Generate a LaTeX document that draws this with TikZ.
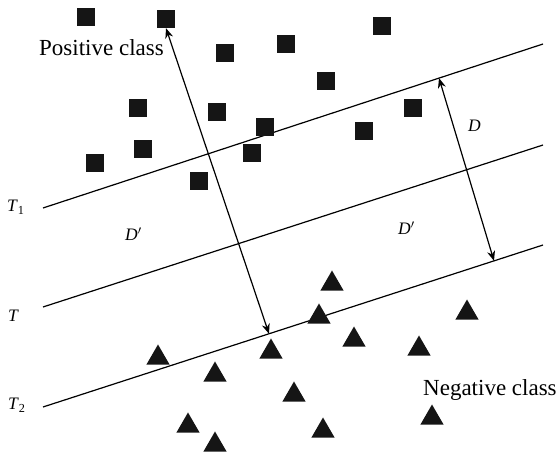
\documentclass[tikz,border=0pt]{standalone}
\usepackage{fontspec}
\setmainfont{Liberation Serif}
\usetikzlibrary{arrows.meta,shapes.geometric}
\definecolor{MarkBlack}{HTML}{151515}
\tikzset{
  posmark/.style={rectangle, fill=MarkBlack, minimum size=18pt, inner sep=0pt},
  negmark/.style={regular polygon, regular polygon sides=3, fill=MarkBlack,
                  minimum size=27pt, inner sep=0pt},
  border/.style={line width=1.2pt},
  gap/.style={{Stealth[length=10pt,width=8pt]}-{Stealth[length=10pt,width=8pt]}, line width=1.2pt},
  classlabel/.style={font=\rmfamily\fontsize{23}{25}\selectfont, inner sep=0pt, anchor=base west},
  linelabel/.style={font=\rmfamily\fontsize{17.5}{19}\selectfont, inner sep=0pt, anchor=base west},
}

\begin{document}
\begin{tikzpicture}[x=1pt,y=-1pt]
    \useasboundingbox (0,0) rectangle (558,454);
    % boundary lines
    \coordinate (t1a) at (43,208);
    \coordinate (t1b) at (543,44);
    \coordinate (ta) at (43,307);
    \coordinate (tb) at (543,145);
    \coordinate (t2a) at (43,407);
    \coordinate (t2b) at (543,245);
    \draw[border] (t1a) -- (t1b) coordinate[pos=0.792] (gapb);
    \draw[border] (ta) -- (tb);
    \draw[border] (t2a) -- (t2b) coordinate[pos=0.452] (gapa) coordinate[pos=0.902] (gapc);
    % positive class
    \node[posmark] (p1) at (86,17) {};
    \node[posmark] (p2) at (166,19) {};
    \node[posmark] (p3) at (225,53) {};
    \node[posmark] (p4) at (286,44) {};
    \node[posmark] (p5) at (382,26) {};
    \node[posmark] (p6) at (138,108) {};
    \node[posmark] (p7) at (217,112) {};
    \node[posmark] (p8) at (265,127) {};
    \node[posmark] (p9) at (326,81) {};
    \node[posmark] (p10) at (413,108) {};
    \node[posmark] (p11) at (364,131) {};
    \node[posmark] (p12) at (143,149) {};
    \node[posmark] (p13) at (95,163) {};
    \node[posmark] (p14) at (252,153) {};
    \node[posmark] (p15) at (199,181) {};
    % negative class
    \node[negmark] (n1) at (158,358) {};
    \node[negmark] (n2) at (215,375) {};
    \node[negmark] (n3) at (188,426) {};
    \node[negmark] (n4) at (215,445) {};
    \node[negmark] (n5) at (271,352) {};
    \node[negmark] (n6) at (332,284) {};
    \node[negmark] (n7) at (319,317) {};
    \node[negmark] (n8) at (354,340) {};
    \node[negmark] (n9) at (419,349) {};
    \node[negmark] (n10) at (467,313) {};
    \node[negmark] (n11) at (294,395) {};
    \node[negmark] (n12) at (323,431) {};
    \node[negmark] (n13) at (432,418) {};
    % margins
    \draw[gap] (p2.south) -- (gapa);
    \draw[gap] (gapb) -- (gapc);
    % labels
    \node[classlabel] (poslabel) at (39,56) {Positive class};
    \node[classlabel] (neglabel) at (423,396) {Negative class};
    \node[linelabel] (t1label) at (7,212) {\textit{T}\textsubscript{1}};
    \node[linelabel] (tlabel) at (8,322) {\textit{T}};
    \node[linelabel] (t2label) at (8,410) {\textit{T}\textsubscript{2}};
    \node[linelabel] (dlabel) at (468,132) {\textit{D}};
    \node[linelabel] (dleft) at (125,241) {\textit{D}$'$};
    \node[linelabel] (dright) at (398,235) {\textit{D}$'$};
  \end{tikzpicture}
\end{document}
